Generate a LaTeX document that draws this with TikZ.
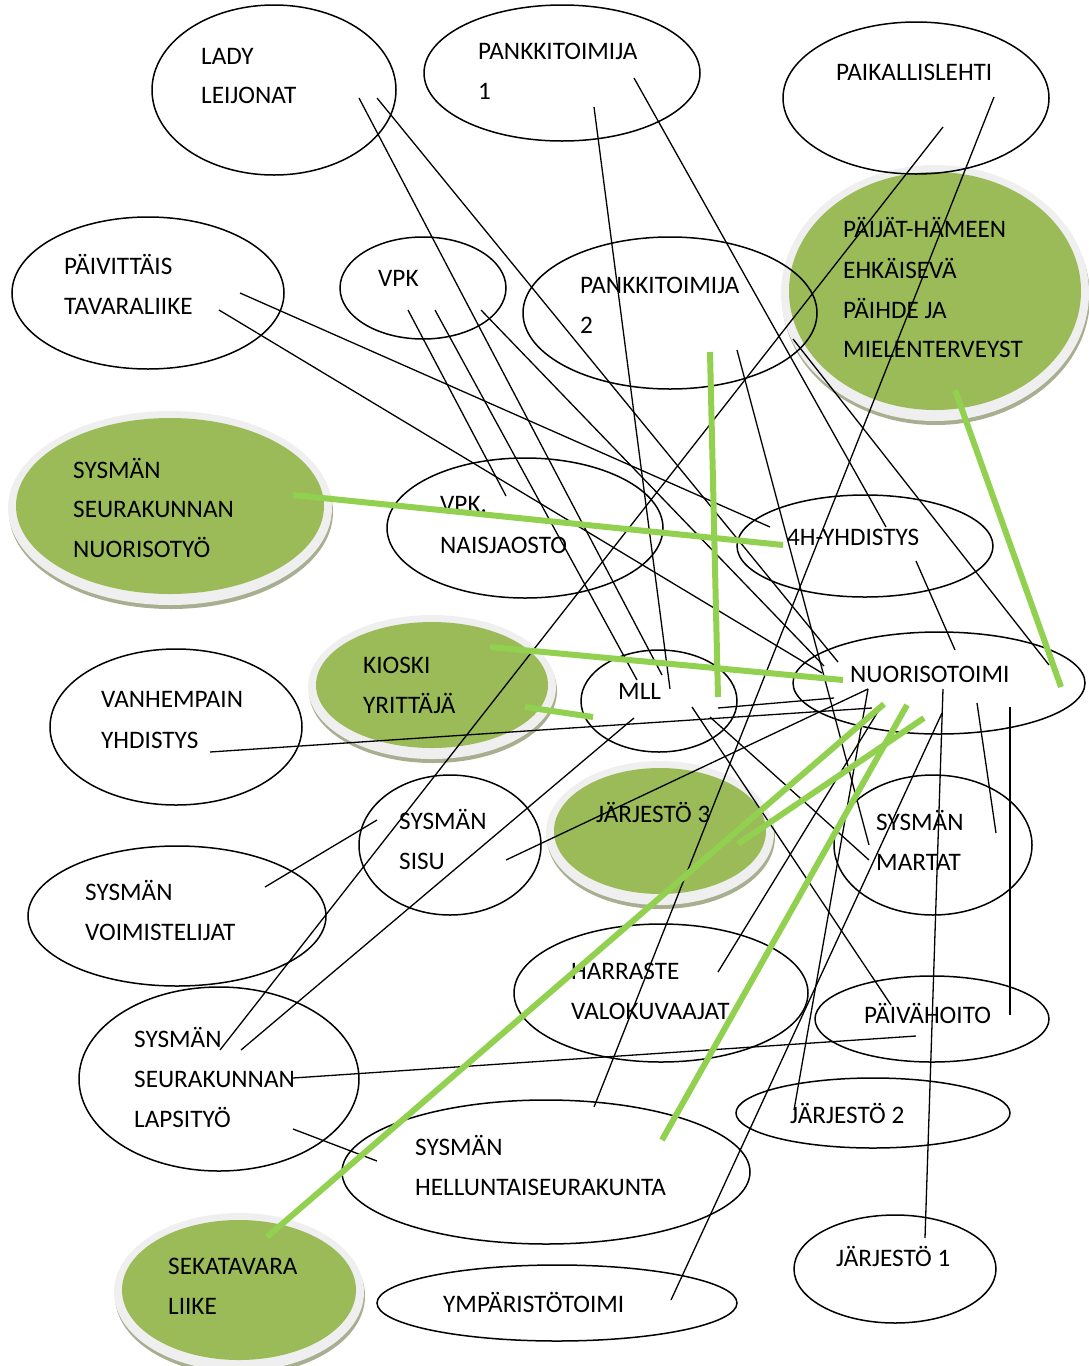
\documentclass[tikz,border=0pt]{standalone}
\usepackage{fontspec}
\setmainfont{Carlito}
\usetikzlibrary{shapes.geometric}
\definecolor{ogreen}{HTML}{9BBB59}
\definecolor{lgreen}{HTML}{92D050}
\definecolor{rimgray}{HTML}{EFEFEF}
\definecolor{rimshadow}{HTML}{A8AF90}
\newcommand\lbfont{\fontsize{25.2}{28}\selectfont}
\newcommand\mkgreen[5]{%
  \fill[rimshadow] (#2+1,#3+6) ellipse ({#4+8} and {#5+9});
  \fill[rimgray] (#2,#3+2) ellipse ({#4+8} and {#5+9});
  \node[greenfill, minimum width=2*#4, minimum height=2*#5] (#1) at (#2,#3) {};}
\tikzset{
  oval/.style={draw=black, line width=1.5pt, ellipse, inner sep=0pt},
  greenfill/.style={fill=ogreen, ellipse, inner sep=0pt},
  lbl/.style={anchor=base west, inner sep=0pt, font=\lbfont},
  link/.style={draw=black, line width=1.3pt},
  glink/.style={draw=lgreen, line width=6pt},
}
\begin{document}
\begin{tikzpicture}[x=1pt,y=-1pt]
\useasboundingbox (0,0) rectangle (1088,1366);
% green ovals
\mkgreen{paij}{935}{291}{146}{119}
\mkgreen{nuoty}{170}{506}{154}{88}
\mkgreen{kioski}{432}{685}{116}{63}
\mkgreen{jarj3}{660}{831}{106}{63}
\mkgreen{seka}{239}{1290}{117}{70}
% outlined ovals
\node[oval, minimum width=244, minimum height=170] (lady) at (274,90) {};
\node[oval, minimum width=276, minimum height=136] (pank1) at (562,73) {};
\node[oval, minimum width=266, minimum height=152] (paik) at (916,98) {};
\node[oval, minimum width=272, minimum height=152] (paiv) at (148,293) {};
\node[oval, minimum width=166, minimum height=102] (vpk) at (423,288) {};
\node[oval, minimum width=294, minimum height=152] (pank2) at (670,313) {};
\node[oval, minimum width=276, minimum height=140] (naisj) at (525,528) {};
\node[oval, minimum width=256, minimum height=102] (yhd4h) at (865,546) {};
\node[oval, minimum width=292, minimum height=102] (nuori) at (939,683) {};
\node[oval, minimum width=156, minimum height=102] (mll) at (659,701) {};
\node[oval, minimum width=252, minimum height=156] (vanh) at (176,727) {};
\node[oval, minimum width=182, minimum height=140] (sisu) at (450,845) {};
\node[oval, minimum width=198, minimum height=140] (martat) at (933,845) {};
\node[oval, minimum width=298, minimum height=140] (voim) at (177,916) {};
\node[oval, minimum width=294, minimum height=138] (harr) at (661,993) {};
\node[oval, minimum width=234, minimum height=86] (paivah) at (932,1019) {};
\node[oval, minimum width=280, minimum height=184] (lapsi) at (219,1079) {};
\node[oval, minimum width=274, minimum height=70] (jarj2) at (873,1113) {};
\node[oval, minimum width=408, minimum height=144] (hell) at (546,1172) {};
\node[oval, minimum width=202, minimum height=108] (jarj1) at (895,1269) {};
\node[oval, minimum width=360, minimum height=76] (ymp) at (557,1303) {};
% labels
\node[lbl] (tlady1) at (201,64) {LADY};
\node[lbl] (tlady2) at (201,103) {LEIJONAT};
\node[lbl] (tpank1a) at (478,59) {PANKKITOIMIJA};
\node[lbl] (tpank1b) at (478,99) {1};
\node[lbl] (tpaik) at (836,80) {PAIKALLISLEHTI};
\node[lbl] (tpaij1) at (843,237) {PÄIJÄT-HÄMEEN};
\node[lbl] (tpaij2) at (843,278) {EHKÄISEVÄ};
\node[lbl] (tpaij3) at (843,318) {PÄIHDE JA};
\node[lbl] (tpaij4) at (843,357) {MIELENTERVEYST};
\node[lbl] (tpaiv1) at (64,274) {PÄIVITTÄIS};
\node[lbl] (tpaiv2) at (64,314) {TAVARALIIKE};
\node[lbl] (tvpk) at (378,286) {VPK};
\node[lbl] (tpank2a) at (580,293) {PANKKITOIMIJA};
\node[lbl] (tpank2b) at (580,333) {2};
\node[lbl] (tnuoty1) at (73,478) {SYSMÄN};
\node[lbl] (tnuoty2) at (73,517) {SEURAKUNNAN};
\node[lbl] (tnuoty3) at (73,557) {NUORISOTYÖ};
\node[lbl] (tnaisj1) at (440,512) {VPK.};
\node[lbl] (tnaisj2) at (440,553) {NAISJAOSTO};
\node[lbl] (t4h) at (787,545) {4H-YHDISTYS};
\node[lbl] (tnuori) at (850,682) {NUORISOTOIMI};
\node[lbl] (tkioski1) at (363,673) {KIOSKI};
\node[lbl] (tkioski2) at (363,713) {YRITTÄJÄ};
\node[lbl] (tmll) at (618,699) {MLL};
\node[lbl] (tvanh1) at (101,707) {VANHEMPAIN};
\node[lbl] (tvanh2) at (101,748) {YHDISTYS};
\node[lbl] (tsisu1) at (399,829) {SYSMÄN};
\node[lbl] (tsisu2) at (399,869) {SISU};
\node[lbl] (tjarj3) at (596,822) {JÄRJESTÖ 3};
\node[lbl] (tmartat1) at (876,830) {SYSMÄN};
\node[lbl] (tmartat2) at (876,870) {MARTAT};
\node[lbl] (tvoim1) at (85,900) {SYSMÄN};
\node[lbl] (tvoim2) at (85,940) {VOIMISTELIJAT};
\node[lbl] (tharr1) at (571,979) {HARRASTE};
\node[lbl] (tharr2) at (571,1019) {VALOKUVAAJAT};
\node[lbl] (tpaivah) at (864,1023) {PÄIVÄHOITO};
\node[lbl] (tlapsi1) at (134,1047) {SYSMÄN};
\node[lbl] (tlapsi2) at (134,1087) {SEURAKUNNAN};
\node[lbl] (tlapsi3) at (134,1127) {LAPSITYÖ};
\node[lbl] (tjarj2) at (790,1123) {JÄRJESTÖ 2};
\node[lbl] (thell1) at (415,1155) {SYSMÄN};
\node[lbl] (thell2) at (415,1195) {HELLUNTAISEURAKUNTA};
\node[lbl] (tjarj1) at (836,1266) {JÄRJESTÖ 1};
\node[lbl] (tseka1) at (168,1274) {SEKATAVARA};
\node[lbl] (tseka2) at (168,1314) {LIIKE};
\node[lbl] (tymp) at (443,1312) {YMPÄRISTÖTOIMI};
% connector end points
\coordinate (lA) at (359,98);   \coordinate (lB) at (377,98);
\coordinate (k1A) at (594,107); \coordinate (k1B) at (634,78);
\coordinate (pA) at (943,127);  \coordinate (pB) at (994,97);
\coordinate (vA) at (240,293);  \coordinate (vB) at (219,310);
\coordinate (fA) at (408,310);  \coordinate (fB) at (435,310); \coordinate (fC) at (481,310);
\coordinate (k2A) at (737,350); \coordinate (k2B) at (793,339);
\coordinate (hA) at (916,561);  \coordinate (hB) at (770,527); \coordinate (hC) at (886,527);
\coordinate (nA) at (955,650);  \coordinate (nB) at (834,698); \coordinate (nC) at (872,708);
\coordinate (nD) at (868,689);  \coordinate (nE) at (882,705); \coordinate (nF) at (943,689);
\coordinate (nG) at (977,703);  \coordinate (nH) at (1010,707); \coordinate (nI) at (942,713);
\coordinate (nJ) at (838,662);  \coordinate (nK) at (822,673); \coordinate (nL) at (824,666);
\coordinate (nM) at (1049,665);
\coordinate (mA) at (662,675);  \coordinate (mB) at (670,689); \coordinate (mC) at (637,680);
\coordinate (mD) at (718,708);  \coordinate (mE) at (692,707); \coordinate (mF) at (710,717);
\coordinate (mG) at (634,718);
\coordinate (naA) at (506,496);
\coordinate (vhA) at (210,752);
\coordinate (sA) at (506,860);  \coordinate (sB) at (377,820);
\coordinate (vmA) at (265,887);
\coordinate (maA) at (869,845); \coordinate (maB) at (996,833); \coordinate (maC) at (869,860);
\coordinate (j2A) at (794,1110);
\coordinate (haA) at (718,972);
\coordinate (j1A) at (925,1238);
\coordinate (phA) at (1010,1015); \coordinate (phB) at (891,1005); \coordinate (phC) at (916,1036);
\coordinate (laA) at (220,1050); \coordinate (laB) at (241,1050); \coordinate (laC) at (293,1129); \coordinate (laD) at (293,1078);
\coordinate (heA) at (594,1107); \coordinate (heB) at (377,1161);
\coordinate (ymA) at (671,1300);
% black connectors
\draw[link] (lA) -- (mA);
\draw[link] (lB) -- (nJ);
\draw[link] (k1A) -- (mB);
\draw[link] (k1B) -- (hC);
\draw[link] (pA) -- (laA);
\draw[link] (pB) -- (heA);
\draw[link] (vA) -- (hB);
\draw[link] (vB) -- (nK);
\draw[link] (fA) -- (naA);
\draw[link] (fB) -- (mC);
\draw[link] (fC) -- (nL);
\draw[link] (k2A) -- (maA);
\draw[link] (k2B) -- (nM);
\draw[link] (hA) -- (nA);
\draw[link] (mD) -- (nB);
\draw[link] (vhA) -- (nC);
\draw[link] (nD) -- (sA);
\draw[link] (nD) -- (j2A);
\draw[link] (nE) -- (haA);
\draw[link] (nF) -- (j1A);
\draw[link] (nG) -- (maB);
\draw[link] (nH) -- (phA);
\draw[link] (nI) -- (ymA);
\draw[link] (mE) -- (phB);
\draw[link] (mF) -- (maC);
\draw[link] (mG) -- (laB);
\draw[link] (sB) -- (vmA);
\draw[link] (laC) -- (heB);
\draw[link] (laD) -- (phC);
% green connectors
\coordinate (gA1) at (293,495); \coordinate (gA2) at (783,545);
\coordinate (gB1) at (490,647); \coordinate (gB2) at (843,680);
\coordinate (gC1) at (525,707); \coordinate (gC2) at (593,717);
\coordinate (gD1) at (710,352); \coordinate (gD2) at (718,697);
\coordinate (gE1) at (955,390); \coordinate (gE2) at (1061,687);
\coordinate (gF1) at (884,704); \coordinate (gF2) at (267,1237);
\coordinate (gG1) at (907,705); \coordinate (gG2) at (662,1140);
\coordinate (gH1) at (924,718); \coordinate (gH2) at (738,844);
\draw[glink] (gA1) -- (gA2);
\draw[glink] (gB1) -- (gB2);
\draw[glink] (gC1) -- (gC2);
\draw[glink] (gD1) -- (gD2);
\draw[glink] (gE1) -- (gE2);
\draw[glink] (gF1) -- (gF2);
\draw[glink] (gG1) -- (gG2);
\draw[glink] (gH1) -- (gH2);
\end{tikzpicture}
\end{document}
